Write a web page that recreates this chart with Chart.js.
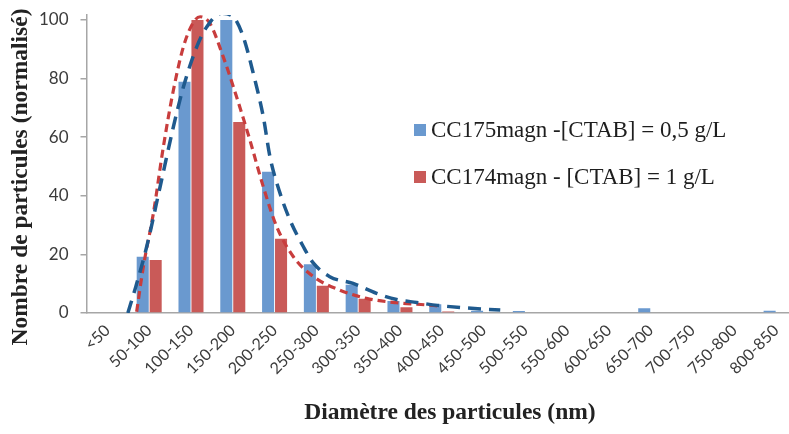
<!DOCTYPE html>
<html>
<head>
<meta charset="utf-8">
<script src="https://cdn.jsdelivr.net/npm/chart.js@4/dist/chart.umd.min.js"></script>
<style>
  html, body { margin: 0; padding: 0; background: #ffffff; overflow: hidden; }
  #wrap { position: relative; width: 800px; height: 434px; }
</style>
</head>
<body>
<div id="wrap"><canvas id="chart"></canvas></div>
<script>
// Size classes (nm)
const categories = ['<50', '50-100', '100-150', '150-200', '200-250', '250-300', '300-350',
  '350-400', '400-450', '450-500', '500-550', '550-600', '600-650', '650-700',
  '700-750', '750-800', '800-850'];

// Normalised particle counts per size class
const cc175 = [0, 19.2, 78.9, 100, 48.2, 16.6, 9.6, 4.1, 3.0, 0.8, 0.7, 0, 0, 1.6, 0, 0, 0.8];
const cc174 = [0, 18.1, 100, 65.2, 25.3, 9.3, 4.9, 2.0, 0.5, 0, 0, 0, 0, 0, 0, 0, 0];

// Fitted distribution curves, x expressed in size-class index units
const fitX175 = [0.49, 0.68, 0.94, 1.26, 1.58, 1.82, 2.14, 2.38, 2.73, 3.01, 3.25, 3.49, 3.73,
  3.89, 4.13, 4.37, 4.69, 4.93, 5.32, 5.88, 6.44, 6.92, 7.4, 7.9, 8.6, 9.4];
const fitY175 = [0, 9, 22.6, 43, 63.6, 77.2, 90.9, 97.7, 102.3, 101.1, 94.3, 81.8, 67,
  53.3, 40.9, 31.7, 22.6, 17, 12.4, 10.1, 6.7, 4.6, 3.6, 2.6, 1.7, 1];
const fitX174 = [0.70, 0.86, 1.10, 1.34, 1.58, 1.82, 2.05, 2.22, 2.45, 2.77, 3.09, 3.41, 3.73,
  4.05, 4.45, 4.93, 5.56, 6.20, 6.92, 7.5, 7.95];
const fitY174 = [0.4, 15.8, 34, 56.8, 76.1, 90.9, 99, 101.1, 98.9, 87.5, 73.8, 59, 43.1,
  29.5, 19.2, 12.4, 7.8, 5, 3.5, 2.9, 2.4];

const yTicks = [0, 20, 40, 60, 80, 100];

const seriesNames = ['CC175magn -[CTAB] = 0,5 g/L', 'CC174magn - [CTAB] = 1 g/L'];
const xTitle = 'Diamètre des particules (nm)';
const yTitle = 'Nombre de particules (normalisé)';

// Bars and curves share one numeric x axis: class i sits at x = i
const toPoints = (xs, ys) => xs.map((x, i) => ({ x: x, y: ys[i] }));
const classIndex = categories.map((_, i) => i);

const axisColor = '#a6a6a6';
const tickColor = '#3b3b3b';
const serif = '"Liberation Serif", "Times New Roman", serif';

// Legend drawn inside the plot area, next to the tail of the distribution
const insideLegend = {
  id: 'insideLegend',
  afterDraw(chart, args, opts) {
    const ctx = chart.ctx;
    ctx.save();
    ctx.font = opts.font;
    ctx.textBaseline = 'middle';
    ctx.textAlign = 'left';
    let y = opts.y;
    chart.data.datasets.forEach(ds => {
      if (ds.type === 'line') return;
      ctx.fillStyle = ds.backgroundColor;
      ctx.fillRect(opts.x, y - opts.box / 2, opts.box, opts.box);
      ctx.fillStyle = opts.color;
      ctx.fillText(ds.label, opts.x + opts.box + 5, y + 1);
      y += opts.rowGap;
    });
    ctx.restore();
  }
};

// Axis titles, centred on the whole figure rather than on the plot area
const axisTitles = {
  id: 'axisTitles',
  afterDraw(chart, args, opts) {
    const ctx = chart.ctx;
    ctx.save();
    ctx.font = opts.font;
    ctx.fillStyle = opts.color;
    ctx.textAlign = 'center';
    ctx.textBaseline = 'middle';
    ctx.fillText(xTitle, opts.xTitleX, opts.xTitleY);
    ctx.translate(opts.yTitleX, opts.yTitleY);
    ctx.rotate(-Math.PI / 2);
    ctx.fillText(yTitle, 0, 0);
    ctx.restore();
  }
};

// Scales keep a fixed footprint so the plot area does not shrink for rotated labels
const noPadding = (scale) => {
  scale.paddingLeft = 0; scale.paddingRight = 0;
  scale.paddingTop = 0; scale.paddingBottom = 0;
};

new Chart(document.getElementById('chart'), {
  data: {
    datasets: [
      {
        type: 'bar', label: seriesNames[0], data: toPoints(classIndex, cc175),
        backgroundColor: '#6a99cf', borderWidth: 0, order: 2,
        categoryPercentage: 0.62, barPercentage: 0.93
      },
      {
        type: 'bar', label: seriesNames[1], data: toPoints(classIndex, cc174),
        backgroundColor: '#c95a58', borderWidth: 0, order: 2,
        categoryPercentage: 0.62, barPercentage: 0.93
      },
      {
        type: 'line', label: 'fit CC175', data: toPoints(fitX175, fitY175),
        borderColor: '#1f5a8e', borderWidth: 3.5, borderDash: [13, 8], pointRadius: 0,
        fill: false, tension: 0.4, cubicInterpolationMode: 'monotone', order: 1
      },
      {
        type: 'line', label: 'fit CC174', data: toPoints(fitX174, fitY174),
        borderColor: '#c83d3d', borderWidth: 3.2, borderDash: [8, 5], pointRadius: 0,
        fill: false, tension: 0.4, cubicInterpolationMode: 'monotone', order: 1
      }
    ]
  },
  options: {
    responsive: true,
    maintainAspectRatio: false,
    animation: false,
    layout: { padding: { left: 0, right: 3, top: 15, bottom: 0 } },
    plugins: {
      legend: { display: false },
      tooltip: { enabled: false },
      insideLegend: {
        x: 414, y: 130, box: 12, rowGap: 47,
        font: '23px ' + serif, color: '#1e1e1e'
      },
      axisTitles: {
        font: 'bold 23.5px ' + serif, color: '#222222',
        xTitleX: 450, xTitleY: 413, yTitleX: 21, yTitleY: 177
      }
    },
    scales: {
      x: {
        type: 'linear',
        offset: false,
        min: -0.5, max: categories.length - 0.5,
        grid: { display: false, drawTicks: false, offset: false },
        border: { display: true, color: axisColor, width: 1.5 },
        afterBuildTicks(scale) { scale.ticks = classIndex.map(v => ({ value: v })); },
        ticks: {
          color: tickColor, font: { family: 'Lato', size: 16 },
          minRotation: 45, maxRotation: 45, autoSkip: false, padding: 8,
          callback: (value) => categories[value]
        },
        afterFit(scale) { scale.height = 121; noPadding(scale); }
      },
      y: {
        min: 0, max: 101.7,
        grid: { display: true, drawOnChartArea: false, drawTicks: true, tickLength: 6, color: axisColor, lineWidth: 1.5 },
        border: { display: true, color: axisColor, width: 1.5 },
        afterBuildTicks(scale) { scale.ticks = yTicks.map(v => ({ value: v })); },
        ticks: { color: tickColor, font: { family: 'Lato', size: 17 }, padding: 12 },
        afterFit(scale) { scale.width = 86.5; noPadding(scale); }
      }
    }
  },
  plugins: [insideLegend, axisTitles]
});
</script>
</body>
</html>
